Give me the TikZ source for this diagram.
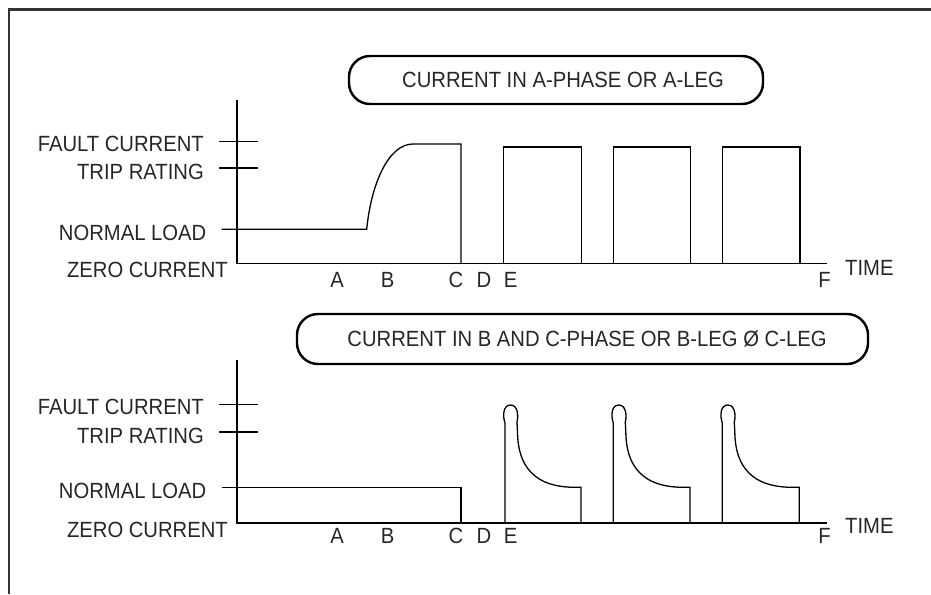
\documentclass[tikz,border=0pt]{standalone}
\usepackage{fontspec}
\setmainfont{Liberation Sans}
\begin{document}
\begin{tikzpicture}[x=1pt,y=-1pt,
  lbl/.style={font=\fontsize{22}{24}\selectfont, text=black!85, inner sep=0pt, xscale=0.92, transform shape},
  plot/.style={line width=1.3pt, line join=miter},
  axis/.style={line width=1.5pt},
  pill/.style={draw, line width=2.4pt, rounded corners=21pt, minimum height=48pt},
  frame/.style={line width=2.2pt, draw=black!80}]
\useasboundingbox (0,0) rectangle (931,594);
% frame
\coordinate (f1) at (9,594);
\coordinate (f2) at (9,9.5);
\coordinate (f3) at (931,9.5);
\draw[frame] (f1) -- (f2) -- (f3);

% ---------- top chart ----------
\node[pill, minimum width=414pt] (p1) at (556,80) {};
\node[lbl] (p1t) at (563,80) {CURRENT IN A-PHASE OR A-LEG};

\coordinate (ya) at (237,100);
\coordinate (o1) at (237,263.5);
\coordinate (xe1) at (827,263.5);
\draw[axis] (ya) -- (o1) -- (xe1);

\coordinate (tf1a) at (219,141.7); \coordinate (tf1b) at (258,141.7);
\coordinate (tt1a) at (219,168);   \coordinate (tt1b) at (258,168);
\draw[plot] (tf1a) -- (tf1b);
\draw[plot] (tt1a) -- (tt1b);

\node[lbl, anchor=base east] (fc1) at (204,151.7) {FAULT CURRENT};
\node[lbl, anchor=base east] (tr1) at (204,179) {TRIP RATING};
\node[lbl, anchor=base east] (nl1) at (206.5,240) {NORMAL LOAD};
\node[lbl, anchor=base east] (zc1) at (228,277.7) {ZERO CURRENT};

\coordinate (n1s) at (221.7,229.3);
\coordinate (n1e) at (366.7,229.3);
\coordinate (r1t) at (413,144);
\coordinate (c1t) at (461,144);
\coordinate (c1b) at (461,263.5);
\draw[plot] (n1s) -- (n1e) .. controls (371,185) and (388,144) .. (r1t) -- (c1t) -- (c1b);

\foreach \a/\b in {503.7/581.3, 613.3/690.7, 722.3/800}{
  \draw[plot] (\a,263.5) -- (\a,147) -- (\b,147) -- (\b,263.5);
}

\foreach \t/\x in {A/337, B/387.5, C/456, D/484, E/510.5, F/824.5}{
  \node[lbl, anchor=base] (l1\t) at (\x,287.3) {\t};
}
\node[lbl, anchor=base west] (time1) at (845,275) {TIME};

% ---------- bottom chart ----------
\node[pill, minimum width=571pt, minimum height=50pt] (p2) at (582.5,339) {};
\node[lbl] (p2t) at (587,339) {CURRENT IN B AND C-PHASE OR B-LEG Ø C-LEG};

\coordinate (yb) at (237,360);
\coordinate (o2) at (237,523);
\coordinate (xe2) at (827,523);
\draw[axis] (yb) -- (o2) -- (xe2);

\coordinate (tf2a) at (219,404.3); \coordinate (tf2b) at (258,404.3);
\coordinate (tt2a) at (219,432);   \coordinate (tt2b) at (258,432);
\draw[plot] (tf2a) -- (tf2b);
\draw[plot] (tt2a) -- (tt2b);

\node[lbl, anchor=base east] (fc2) at (204,414.3) {FAULT CURRENT};
\node[lbl, anchor=base east] (tr2) at (204,443) {TRIP RATING};
\node[lbl, anchor=base east] (nl2) at (206.5,498.5) {NORMAL LOAD};
\node[lbl, anchor=base east] (zc2) at (228,537.2) {ZERO CURRENT};

\coordinate (n2s) at (221.7,487.7);
\coordinate (n2e) at (461,487.7);
\coordinate (c2b) at (461,523);
\draw[plot] (n2s) -- (n2e) -- (c2b);

\foreach \a/\b in {505/581, 613.3/690, 722.3/799.3}{
  \begin{scope}[shift={(\a,0)}]
  \draw[plot] (0,523) -- (0,423)
     .. controls (-2.5,416) and (-2,405) .. (5.5,405)
     .. controls (13,405) and (13.5,416) .. (12,422)
     -- (12.5,432)
     .. controls (13,476) and (40,487.3) .. (70,487.3)
     -- (\b-\a,487.3) -- (\b-\a,523);
  \end{scope}
}

\foreach \t/\x in {A/337, B/387.5, C/456, D/484, E/510.5, F/824.5}{
  \node[lbl, anchor=base] (l2\t) at (\x,543.3) {\t};
}
\node[lbl, anchor=base west] (time2) at (845,533.5) {TIME};
\end{tikzpicture}
\end{document}
